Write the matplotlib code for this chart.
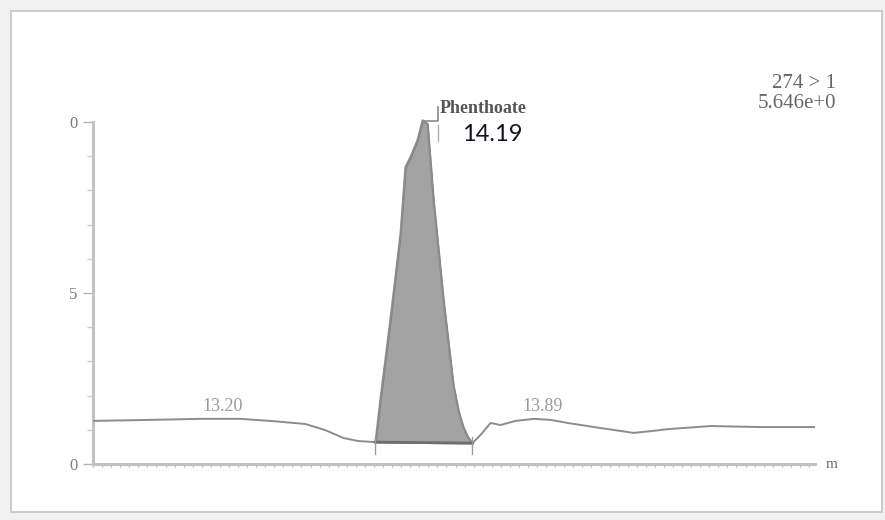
import numpy as np
import matplotlib.pyplot as plt
from matplotlib.patches import Rectangle

# Chromatogram trace (time in min, response)
time = [13.100, 13.289, 13.455, 13.587, 13.687, 13.803, 13.869, 13.929, 13.979, 14.035,
        14.051, 14.085, 14.118, 14.134, 14.151, 14.174, 14.191, 14.207, 14.227, 14.260,
        14.293, 14.310, 14.325, 14.340, 14.356, 14.383, 14.416, 14.449, 14.499, 14.559,
        14.615, 14.671, 14.781, 14.890, 14.946, 15.003, 15.145, 15.311, 15.490]
response = [1.26, 1.29, 1.32, 1.32, 1.26, 1.17, 0.99, 0.76, 0.67, 0.64,
            1.87, 4.27, 6.75, 8.68, 8.98, 9.47, 10.05, 9.95, 7.72, 4.80,
            2.30, 1.55, 1.10, 0.80, 0.61, 0.85, 1.20, 1.14, 1.26, 1.32,
            1.29, 1.20, 1.05, 0.91, 0.96, 1.02, 1.11, 1.08, 1.08]

# integrated peak window
peak_start = 14.035
peak_end = 14.356
peak_name = "Phenthoate"
peak_rt = "14.19"
other_peaks = ["13.20", "13.89"]
trace_info = ["274 > 1", "5.646e+0"]

y_ticks = [0, 5, 10]
y_tick_labels = ["0", "5", "0"]

t = np.array(time)
r = np.array(response)

fig = plt.figure(figsize=(8.85, 5.2), dpi=100)
fig.patch.set_facecolor("#f1f1f1")
fig.patches.append(Rectangle((11 / 885, 8 / 520), 871 / 885, 501 / 520,
                             transform=fig.transFigure, facecolor="white",
                             edgecolor="#c4c4c4", linewidth=1.2, zorder=-5))

ax = fig.add_axes([93 / 885, 56 / 520, 722 / 885, 11 * 34.2 / 520])
ax.set_zorder(2)
ax.set_xlim(13.10, 15.49)
ax.set_ylim(0, 11)
ax.patch.set_visible(False)

for side in ["top", "right"]:
    ax.spines[side].set_visible(False)
for side in ["left", "bottom"]:
    ax.spines[side].set_color("#c2c2c2")
    ax.spines[side].set_linewidth(2.2)
ax.spines["left"].set_bounds(0, 10)

ax.set_yticks(y_ticks)
ax.set_yticklabels(y_tick_labels, fontsize=12, family="Liberation Serif", color="#7a7a7a")
ax.set_yticks(np.arange(0, 11, 1), minor=True)
ax.tick_params(axis="y", which="major", length=7, width=1, color="#b5b5b5", pad=4)
ax.tick_params(axis="y", which="minor", length=4, width=1, color="#cccccc")
ax.set_xticks([])
ax.set_xticks(np.arange(13.10, 15.49, 0.03), minor=True)
ax.tick_params(axis="x", which="minor", length=2.5, width=0.8, color="#b0b0b0")

# baseline trace
ax.plot(t, r, color="#8c8c8c", linewidth=1.4, zorder=3)

# shaded peak area down to the integration baseline
mask = (t >= peak_start) & (t <= peak_end)
pt = t[mask]
pr = r[mask]
base = np.interp(pt, [peak_start, peak_end], [pr[0], pr[-1]])
ax.fill_between(pt, base, pr, color="#a3a3a3", edgecolor="#7a7a7a", linewidth=1.2, zorder=2)
ax.plot([peak_start, peak_end], [pr[0], pr[-1]], color="#6e6e6e", linewidth=2, zorder=4)
for x0 in [peak_start, peak_end]:
    ax.plot([x0, x0], [pr[0] - 0.35, pr[0] + 0.15], color="#9a9a9a", linewidth=1, zorder=4)

# peak label with leader
apex = t[np.argmax(r)]
ax.plot([apex, 14.243, 14.243], [r.max() - 0.03, r.max() - 0.03, 10.45],
        color="#8a8a8a", linewidth=1.2, zorder=4, clip_on=False)
ax.plot([14.243, 14.243], [9.45, 9.9], color="#b0b0b0", linewidth=1, zorder=4)
ax.text(14.248, 10.26, peak_name, fontsize=13, fontweight="bold",
        family="Liberation Serif", color="#555555", va="baseline", clip_on=False)
ax.text(14.323, 9.62, peak_rt, fontsize=17, family="Lato", color="#15151f", va="center")

ax.text(13.528, 1.68, other_peaks[0], fontsize=13, family="Liberation Serif",
        color="#9a9a9a", ha="center", va="center")
ax.text(14.588, 1.68, other_peaks[1], fontsize=13, family="Liberation Serif",
        color="#9a9a9a", ha="center", va="center")

fig.text(836 / 885, 1 - 84 / 520, trace_info[0], fontsize=15, family="Liberation Serif",
         color="#666666", ha="right", va="center")
fig.text(836 / 885, 1 - 104 / 520, trace_info[1], fontsize=15, family="Liberation Serif",
         color="#666666", ha="right", va="center")
fig.text(832 / 885, 1 - 465 / 520, "m", fontsize=11, family="Liberation Serif",
         color="#6a6a6a", ha="center", va="center")

fig.savefig("out.png", dpi=100, facecolor=fig.get_facecolor())
